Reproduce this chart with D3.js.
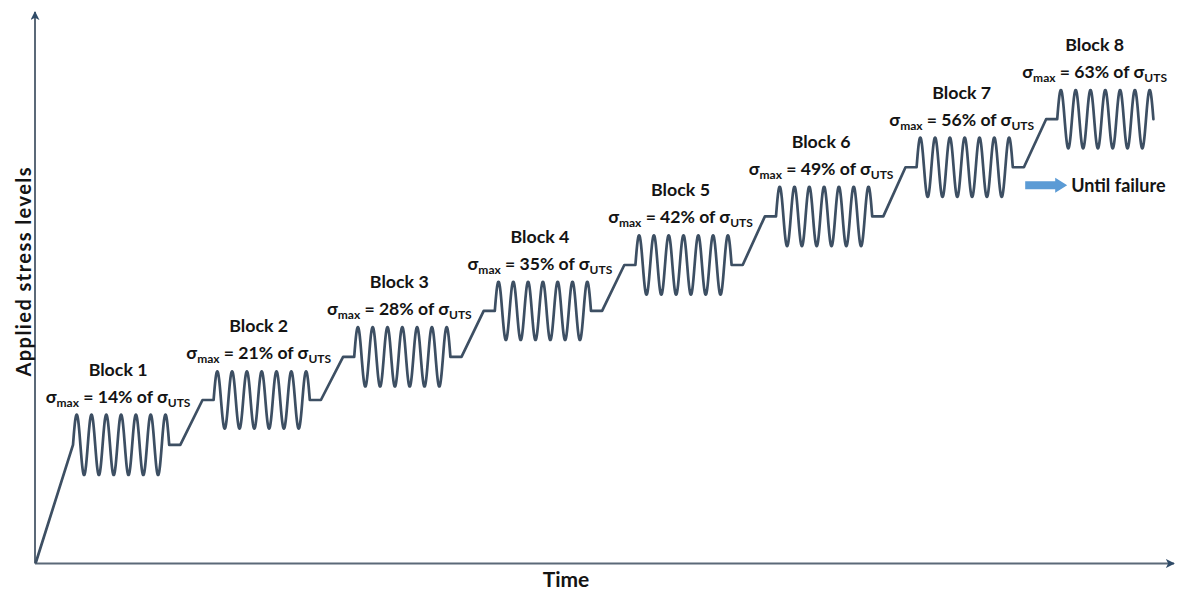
<!DOCTYPE html>
<html>
<head>
<meta charset="utf-8">
<script src="https://cdn.jsdelivr.net/npm/d3@7/dist/d3.min.js"></script>
<style>
  html, body { margin: 0; padding: 0; background: #ffffff; }
  svg { display: block; }
  text { font-family: Lato, "Noto Sans", "DejaVu Sans", sans-serif; font-weight: bold; fill: #141414; }
</style>
</head>
<body>
<svg id="chart" width="1177" height="592"></svg>
<script>
// ---- data ----
const blockNames   = ["Block 1", "Block 2", "Block 3", "Block 4", "Block 5", "Block 6", "Block 7", "Block 8"];
const sigmaMaxPct  = [14, 21, 28, 35, 42, 49, 56, 63];
// time (in load cycles) at which each block's cyclic loading starts
const blockStart   = [2.5, 12, 21.5, 31, 40.5, 50, 59.5, 69];
// mean stress level of each block (axis units 0-100)
const meanLevel    = [21.7, 30.0, 38.0, 46.5, 55.0, 64.0, 73.1, 82.0];
// stress amplitude of each block (axis units)
const amplitude    = [5.6, 5.3, 5.5, 5.4, 5.5, 5.5, 5.5, 5.4];
// number of load cycles in each block
const cyclesPerBlock = [6.5, 6.5, 6.5, 6.5, 6.5, 6.5, 6.5, 6.5];
const holdCycles   = 0.75;   // flat hold before / after each block
const axisTitles   = { x: "Time", y: "Applied stress levels" };
const noteText     = "Until failure";

// ---- layout ----
const W = 1177, H = 592;
const svg = d3.select("#chart");
const x = d3.scaleLinear().domain([0, 77]).range([36, 1175.6]);
const y = d3.scaleLinear().domain([0, 100]).range([562, 22]);

const lineCol = "#3d4f63";
const axisCol = "#5b6978";

// arrow markers
const defs = svg.append("defs");
defs.append("marker")
  .attr("id", "axArrow").attr("viewBox", "0 0 10 10")
  .attr("refX", 9).attr("refY", 5)
  .attr("markerWidth", 4.5).attr("markerHeight", 4.5)
  .attr("markerUnits", "strokeWidth")
  .attr("orient", "auto")
  .append("path").attr("d", "M0,0 L10,5 L0,10 L2.5,5 Z").attr("fill", "#2f4b68");

// axes
const x0 = x(0) - 1, yBase = y(0) + 1.5;
svg.append("line")
  .attr("x1", x0).attr("y1", yBase)
  .attr("x2", 1174).attr("y2", yBase)
  .attr("stroke", axisCol).attr("stroke-width", 2)
  .attr("marker-end", "url(#axArrow)");
svg.append("line")
  .attr("x1", x0).attr("y1", yBase)
  .attr("x2", x0).attr("y2", 12)
  .attr("stroke", axisCol).attr("stroke-width", 2)
  .attr("marker-end", "url(#axArrow)");

// waveform points
const pts = [[0, 0]];
blockStart.forEach((s, i) => {
  const m = meanLevel[i], A = amplitude[i], n = cyclesPerBlock[i];
  if (i > 0) pts.push([s - holdCycles, m]);
  pts.push([s, m]);
  const steps = Math.round(n / 0.02);
  for (let k = 1; k <= steps; k++) {
    const t = k * n / steps;
    pts.push([s + t, m + A * Math.sin(2 * Math.PI * t)]);
  }
  if (i < blockStart.length - 1) pts.push([s + n + holdCycles, m]);
});

svg.append("path")
  .datum(pts)
  .attr("fill", "none")
  .attr("stroke", lineCol)
  .attr("stroke-width", 2.7)
  .attr("stroke-linejoin", "round")
  .attr("stroke-linecap", "round")
  .attr("d", d3.line().x(d => x(d[0])).y(d => y(d[1])));

// block labels
const labels = svg.append("g");
blockStart.forEach((s, i) => {
  const peakY = y(meanLevel[i] + amplitude[i]);
  let cx = x(s + cyclesPerBlock[i] / 2) - 3;
  const g = labels.append("g");
  const t1 = g.append("text")
    .attr("text-anchor", "middle")
    .attr("font-size", 17.8)
    .attr("y", peakY - 39)
    .text(blockNames[i]);
  const t2 = g.append("text")
    .attr("text-anchor", "middle")
    .attr("font-size", 17.6)
    .attr("y", peakY - 12);
  t2.append("tspan").text("σ");
  t2.append("tspan").attr("font-size", 12).attr("dy", 4).text("max");
  t2.append("tspan").attr("dy", -4).text(" = " + sigmaMaxPct[i] + "% of σ");
  t2.append("tspan").attr("font-size", 12).attr("dy", 4).text("UTS");
  // keep the label inside the picture
  const w = t2.node().getComputedTextLength();
  if (cx + w / 2 > W - 10) cx = W - 10 - w / 2;
  t1.attr("x", cx);
  t2.attr("x", cx);
});

// "Until failure" note with block arrow
const last = blockStart.length - 1;
const noteY = y(meanLevel[last] - amplitude[last]) + 37;
const ax0 = x(blockStart[last]) - 32;
svg.append("path")
  .attr("d", `M${ax0},${noteY - 4} L${ax0 + 30},${noteY - 4} L${ax0 + 30},${noteY - 7.5} L${ax0 + 42},${noteY} L${ax0 + 30},${noteY + 7.5} L${ax0 + 30},${noteY + 4} L${ax0},${noteY + 4} Z`)
  .attr("fill", "#5b9bd5");
svg.append("text")
  .attr("x", ax0 + 46).attr("y", noteY + 6.5)
  .attr("font-size", 18)
  .text(noteText);

// axis titles
svg.append("text")
  .attr("x", 566).attr("y", 587)
  .attr("text-anchor", "middle")
  .attr("font-size", 21)
  .text(axisTitles.x);
svg.append("text")
  .attr("transform", "translate(31,272) rotate(-90)")
  .attr("text-anchor", "middle")
  .attr("font-size", 20)
  .attr("textLength", 209)
  .attr("lengthAdjust", "spacing")
  .text(axisTitles.y);
</script>
</body>
</html>
